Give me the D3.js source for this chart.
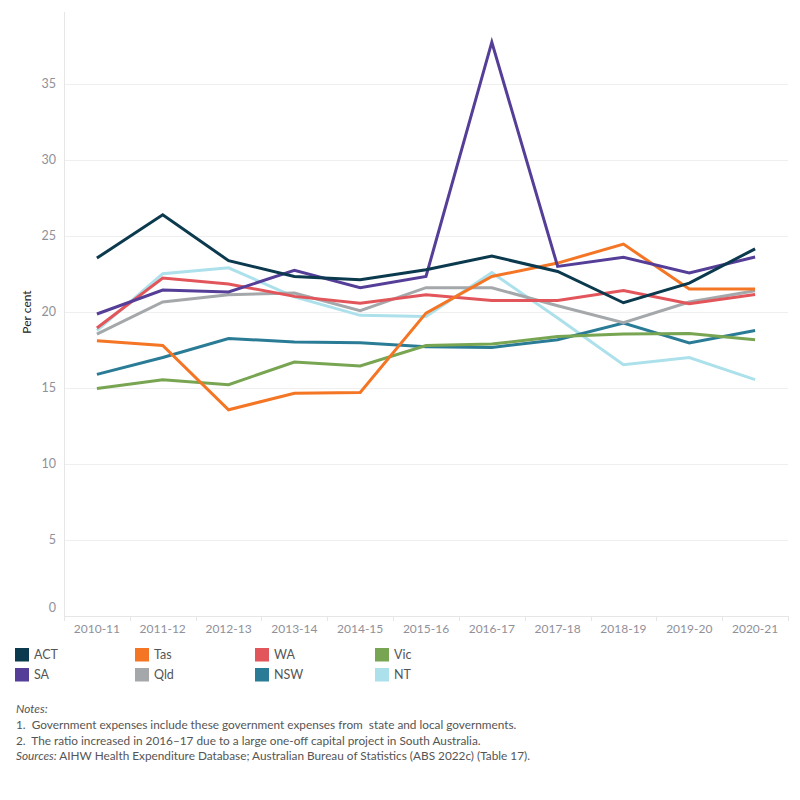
<!DOCTYPE html>
<html>
<head>
<meta charset="utf-8">
<script src="https://cdn.jsdelivr.net/npm/d3@7"></script>
<style>
  body { margin: 0; background: #fff; }
  svg { display: block; font-family: Lato, "Noto Sans", sans-serif; }
  .pre { white-space: pre; }
</style>
</head>
<body>
<svg id="chart" width="800" height="800"></svg>
<script>
const years = ["2010-11","2011-12","2012-13","2013-14","2014-15","2015-16","2016-17","2017-18","2018-19","2019-20","2020-21"];
const seriesNames = ["ACT","Tas","WA","Vic","SA","Qld","NSW","NT"];
const seriesColors = ["#0b3a4e","#f47524","#e2565b","#78a552","#553e98","#a5a8aa","#2a7c96","#ace1ec"];
const ACT = [23.55,26.4,23.38,22.34,22.13,22.78,23.68,22.67,20.61,21.9,24.16];
const Tas = [18.11,17.8,13.57,14.65,14.71,19.93,22.34,23.22,24.47,21.51,21.51];
const WA  = [18.95,22.24,21.84,21.03,20.57,21.14,20.76,20.76,21.42,20.55,21.16];
const Vic = [14.97,15.55,15.22,16.71,16.45,17.8,17.89,18.39,18.55,18.59,18.18];
const SA  = [19.87,21.45,21.32,22.74,21.6,22.34,37.76,23.0,23.6,22.57,23.62];
const Qld = [18.55,20.66,21.14,21.25,20.09,21.6,21.6,20.41,19.3,20.66,21.4];
const NSW = [15.9,17.01,18.26,18.03,17.98,17.72,17.67,18.18,19.27,17.96,18.79];
const NT  = [18.77,22.52,22.91,21.0,19.78,19.71,22.6,19.6,16.53,17.01,15.55];
const yTicks = [0,5,10,15,20,25,30,35];
const notes = [
  "1.  Government expenses include these government expenses from  state and local governments.",
  "2.  The ratio increased in 2016\u201317 due to a large one-off capital project in South Australia."
];
const sourcesLabel = "Sources:";
const sourcesText = " AIHW Health Expenditure Database; Australian Bureau of Statistics (ABS 2022c) (Table 17).";

const valuesBySeries = {ACT, Tas, WA, Vic, SA, Qld, NSW, NT};

const svg = d3.select("#chart");
const pLeft = 64, pRight = 788, pTop = 12, pBottom = 616;

const x = d3.scaleBand().domain(years).range([pLeft, pRight]);
const y = d3.scaleLinear().domain([0, 39.74]).range([pBottom, pTop]);

// gridlines
svg.append("g").selectAll("line").data(yTicks.filter(d => d > 0)).join("line")
  .attr("x1", pLeft).attr("x2", pRight)
  .attr("y1", d => Math.round(y(d)) + 0.5).attr("y2", d => Math.round(y(d)) + 0.5)
  .attr("stroke", "#efefef").attr("stroke-width", 1);

// axes lines
svg.append("line").attr("x1", pLeft + 0.5).attr("x2", pLeft + 0.5).attr("y1", pTop).attr("y2", pBottom + 5)
  .attr("stroke", "#e6e6e6");
svg.append("line").attr("x1", pLeft).attr("x2", pRight).attr("y1", pBottom + 0.5).attr("y2", pBottom + 0.5)
  .attr("stroke", "#e6e6e6");

// category dividers ticks
const bounds = years.map(d => x(d)).concat([pRight]);
svg.append("g").selectAll("line").data(bounds).join("line")
  .attr("x1", d => Math.round(d) + 0.5).attr("x2", d => Math.round(d) + 0.5)
  .attr("y1", pBottom).attr("y2", pBottom + 5)
  .attr("stroke", "#e6e6e6");

// y tick labels
svg.append("g").selectAll("text").data(yTicks).join("text")
  .attr("x", 56).attr("y", d => d === 0 ? y(d) - 8 : y(d))
  .attr("dy", "0.35em").attr("text-anchor", "end")
  .attr("font-size", 12.5).attr("fill", "#90909a")
  .text(d => d);

// x tick labels
svg.append("g").selectAll("text").data(years).join("text")
  .attr("x", d => x(d) + x.bandwidth() / 2).attr("y", 629)
  .attr("dy", "0.35em").attr("text-anchor", "middle")
  .attr("font-size", 12).attr("fill", "#90909a")
  .text(d => d);

// y axis title
svg.append("text")
  .attr("transform", "translate(31,312) rotate(-90)")
  .attr("text-anchor", "middle").attr("font-size", 12).attr("fill", "#222")
  .text("Per cent");

// lines
const line = d3.line().x((d, i) => x(years[i]) + x.bandwidth() / 2).y(d => y(d));
const drawOrder = ["NT","NSW","Qld","Vic","WA","Tas","SA","ACT"];
svg.append("g").selectAll("path").data(drawOrder).join("path")
  .attr("d", k => line(valuesBySeries[k]))
  .attr("fill", "none")
  .attr("stroke", k => seriesColors[seriesNames.indexOf(k)])
  .attr("stroke-width", 3)
  .attr("stroke-linejoin", "miter");

// legend
const lg = svg.append("g").selectAll("g").data(seriesNames).join("g")
  .attr("transform", (d, i) => `translate(${15 + (i % 4) * 120},${648 + Math.floor(i / 4) * 20})`);
lg.append("rect").attr("width", 14).attr("height", 13.5).attr("fill", (d, i) => seriesColors[i]);
lg.append("text").attr("x", 19).attr("y", 7).attr("dy", "0.35em")
  .attr("font-size", 12.5).attr("fill", "#555").text(d => d);

// notes
svg.append("text").attr("x", 16).attr("y", 713).attr("font-size", 11.8)
  .attr("font-style", "italic").attr("fill", "#555").text("Notes:");
svg.append("g").selectAll("text").data(notes).join("text")
  .attr("class", "pre")
  .attr("x", 16).attr("y", (d, i) => 729 + i * 15.5)
  .attr("font-size", 11.8).attr("fill", "#555").text(d => d);
const st = svg.append("text").attr("class", "pre").attr("x", 16).attr("y", 760).attr("font-size", 11.8).attr("fill", "#555");
st.append("tspan").attr("font-style", "italic").text(sourcesLabel);
st.append("tspan").text(sourcesText);
</script>
</body>
</html>
